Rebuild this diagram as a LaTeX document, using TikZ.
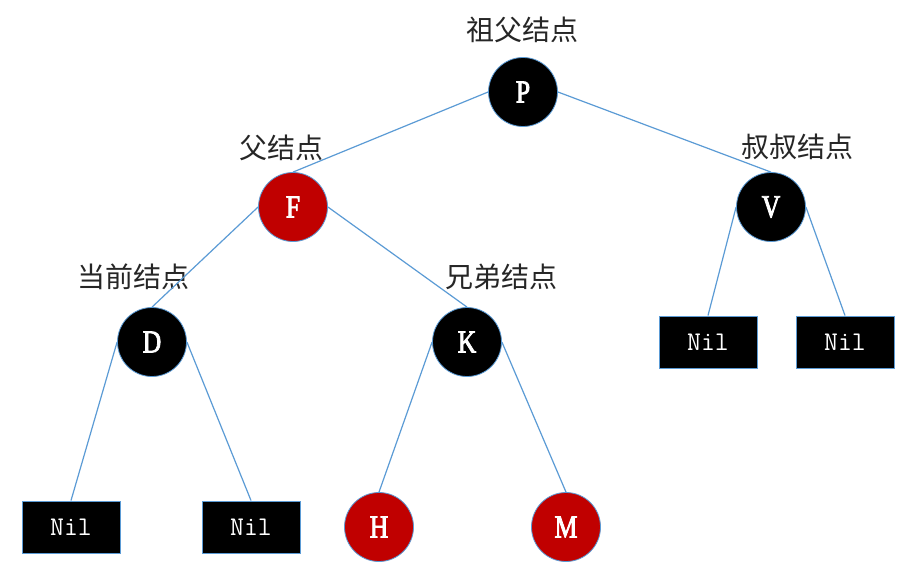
\documentclass[tikz,border=0pt]{standalone}
\usepackage{fontspec}
\newfontfamily\cjk{Noto Sans CJK SC}
\newfontfamily\letterfont[FakeStretch=0.8,FakeBold=2.5]{Liberation Serif}
\definecolor{edgeblue}{HTML}{5B9BD5}
\definecolor{rbred}{HTML}{C00000}
\definecolor{labelgray}{HTML}{262626}
\tikzset{
  rbnode/.style={circle, minimum size=69pt, inner sep=0pt, draw=edgeblue, line width=0.8pt, text=white,
    font=\letterfont\fontsize{32}{32}\selectfont},
  blacknode/.style={rbnode, fill=black},
  rednode/.style={rbnode, fill=rbred},
  nilnode/.style={rectangle, minimum width=98pt, minimum height=52pt, inner sep=0pt, fill=black,
    draw=edgeblue, line width=1pt, text=white, font=\ttfamily\fontsize{27}{27}\selectfont},
  lbl/.style={font=\cjk\fontsize{28}{28}\selectfont, text=labelgray, inner sep=0pt},
  link/.style={draw=edgeblue, line width=1.2pt}
}
\begin{document}
\begin{tikzpicture}[x=1pt,y=-1pt]
\useasboundingbox[fill=white] (0,0) rectangle (921,583);
% nodes
\node[blacknode] (P) at (523,92) {P};
\node[rednode]   (F) at (293,207) {F};
\node[blacknode] (V) at (771,207) {V};
\node[blacknode] (D) at (152,342) {D};
\node[blacknode] (K) at (467,342) {K};
\node[rednode]   (H) at (379,527) {H};
\node[rednode]   (M) at (566,527) {M};
\node[nilnode] (n1) at (71,527) {Nil};
\node[nilnode] (n2) at (251,527) {Nil};
\node[nilnode] (n3) at (708,342) {Nil};
\node[nilnode] (n4) at (845,342) {Nil};
% labels
\node[lbl] (lP) at (522,30) {祖父结点};
\node[lbl] (lF) at (281,148) {父结点};
\node[lbl] (lD) at (133,277) {当前结点};
\node[lbl] (lK) at (501,277) {兄弟结点};
\node[lbl] (lV) at (797,147) {叔叔结点};
% edges
\draw[link] (P.west) -- (F.north);
\draw[link] (P.east) -- (V.north);
\draw[link] (F.west) -- (D.north);
\draw[link] (F.east) -- (K.north);
\draw[link] (D.west) -- (n1.north);
\draw[link] (D.east) -- (n2.north);
\draw[link] (K.west) -- (H.north);
\draw[link] (K.east) -- (M.north);
\draw[link] (V.west) -- (n3.north);
\draw[link] (V.east) -- (n4.north);
\end{tikzpicture}
\end{document}
